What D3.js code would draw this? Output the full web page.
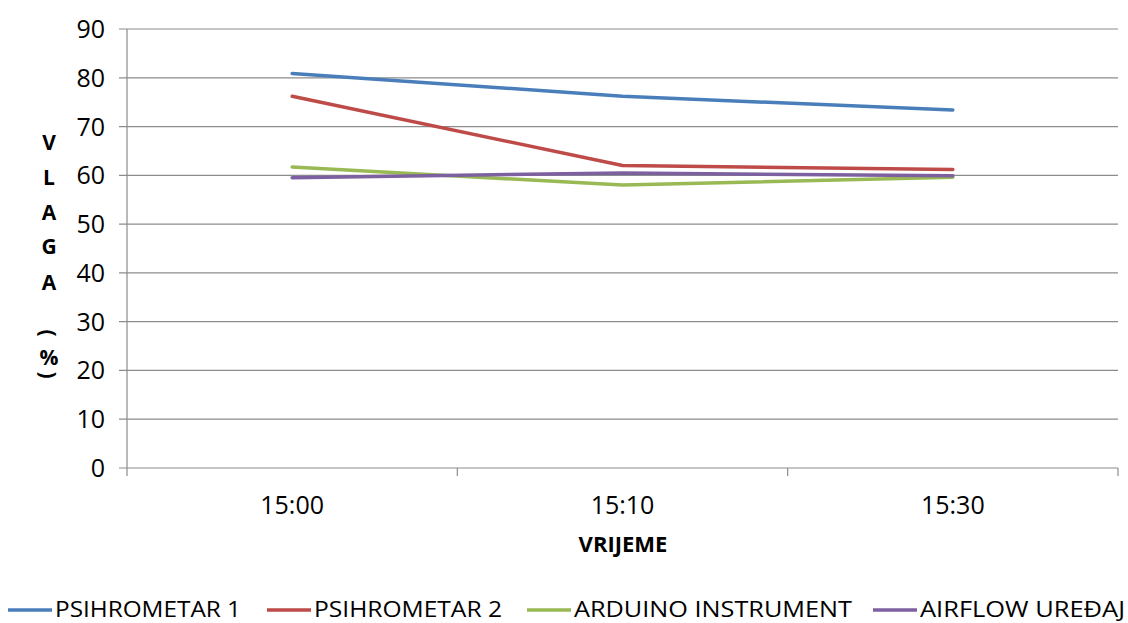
<!DOCTYPE html>
<html>
<head>
<meta charset="utf-8">
<script src="https://cdn.jsdelivr.net/npm/d3@7"></script>
<style>
  body { margin: 0; background: #fff; }
  svg text { font-family: "Open Sans", "Liberation Sans", sans-serif; fill: #000; }
</style>
</head>
<body>
<div id="chart"></div>
<script>
// chart data
const categories = ["15:00", "15:10", "15:30"];
const seriesNames = ["PSIHROMETAR 1", "PSIHROMETAR 2", "ARDUINO INSTRUMENT", "AIRFLOW UREĐAJ"];
const psihrometar1 = [80.9, 76.2, 73.4];
const psihrometar2 = [76.2, 62.0, 61.2];
const arduino = [61.7, 58.0, 59.6];
const airflow = [59.5, 60.5, 59.9];
const yTicks = [0, 10, 20, 30, 40, 50, 60, 70, 80, 90];
const colors = ["#4a7ebb", "#be4b48", "#98b954", "#7d60a0"];
const yTitle = ["V", "L", "A", "G", "A", "", "(", "%", ")"];

const width = 1128, height = 623;
const plot = { left: 127, right: 1118, top: 29, bottom: 468 };

const svg = d3.select("#chart").append("svg").attr("width", width).attr("height", height);

const x = d3.scaleBand().domain(categories).range([plot.left, plot.right]);
const y = d3.scaleLinear().domain([0, 90]).range([plot.bottom, plot.top]);

// gridlines
svg.append("g").selectAll("line").data(yTicks).join("line")
  .attr("x1", plot.left - 8).attr("x2", plot.right)
  .attr("y1", d => y(d)).attr("y2", d => y(d))
  .attr("stroke", "#8c8c8c").attr("stroke-width", 1.2);

// y axis line
svg.append("line").attr("x1", plot.left).attr("x2", plot.left)
  .attr("y1", plot.top).attr("y2", plot.bottom)
  .attr("stroke", "#8c8c8c").attr("stroke-width", 1.2);

// x tick marks at band edges
const edges = categories.map(c => x(c)).concat([x(categories[categories.length - 1]) + x.bandwidth()]);
svg.append("g").selectAll("line").data(edges).join("line")
  .attr("x1", d => d).attr("x2", d => d)
  .attr("y1", plot.bottom).attr("y2", plot.bottom + 8)
  .attr("stroke", "#8c8c8c").attr("stroke-width", 1.2);

// y tick labels
svg.append("g").selectAll("text").data(yTicks).join("text")
  .attr("x", 105).attr("y", d => y(d)).attr("dy", "0.36em")
  .attr("text-anchor", "end").style("font-size", "25px")
  .text(d => d);

// x tick labels
svg.append("g").selectAll("text").data(categories).join("text")
  .attr("x", d => x(d) + x.bandwidth() / 2).attr("y", 514)
  .attr("text-anchor", "middle").style("font-size", "25px")
  .text(d => d);

// x title
svg.append("text").attr("x", 623).attr("y", 552)
  .attr("text-anchor", "middle").style("font-size", "22px").style("font-weight", "bold")
  .text("VRIJEME");

// y title, stacked letters
const yTitlePos = [142, 177, 212, 246, 282, 307, 333, 357, 375];
yTitle.forEach((ch, i) => {
  if (!ch) return;
  const t = svg.append("text").attr("x", 49).attr("y", yTitlePos[i]).attr("dy", "0.36em")
    .attr("text-anchor", "middle").style("font-size", "21px").style("font-weight", "bold")
    .text(ch);
  if (ch === "(" || ch === ")") t.attr("transform", `rotate(90,49,${yTitlePos[i]})`);
});

// lines
const allSeries = [psihrometar1, psihrometar2, arduino, airflow];
const line = d3.line()
  .x((d, i) => x(categories[i]) + x.bandwidth() / 2)
  .y(d => y(d));
svg.append("g").selectAll("path").data(allSeries).join("path")
  .attr("d", line)
  .attr("fill", "none")
  .attr("stroke", (d, i) => colors[i])
  .attr("stroke-width", 3.5)
  .attr("stroke-linejoin", "round")
  .attr("stroke-linecap", "round");

// legend
const legendX = [8, 267, 527, 873];
const legendW = [186, 188, 278, 205];
const legend = svg.append("g").selectAll("g").data(seriesNames).join("g")
  .attr("transform", (d, i) => `translate(${legendX[i]},610)`);
legend.append("line").attr("x1", 0).attr("x2", 44).attr("y1", 0).attr("y2", 0)
  .attr("stroke", (d, i) => colors[i]).attr("stroke-width", 3.5);
legend.append("text").attr("x", 47).attr("y", 7)
  .style("font-size", "21px")
  .attr("textLength", (d, i) => legendW[i]).attr("lengthAdjust", "spacingAndGlyphs")
  .text(d => d);
</script>
</body>
</html>
